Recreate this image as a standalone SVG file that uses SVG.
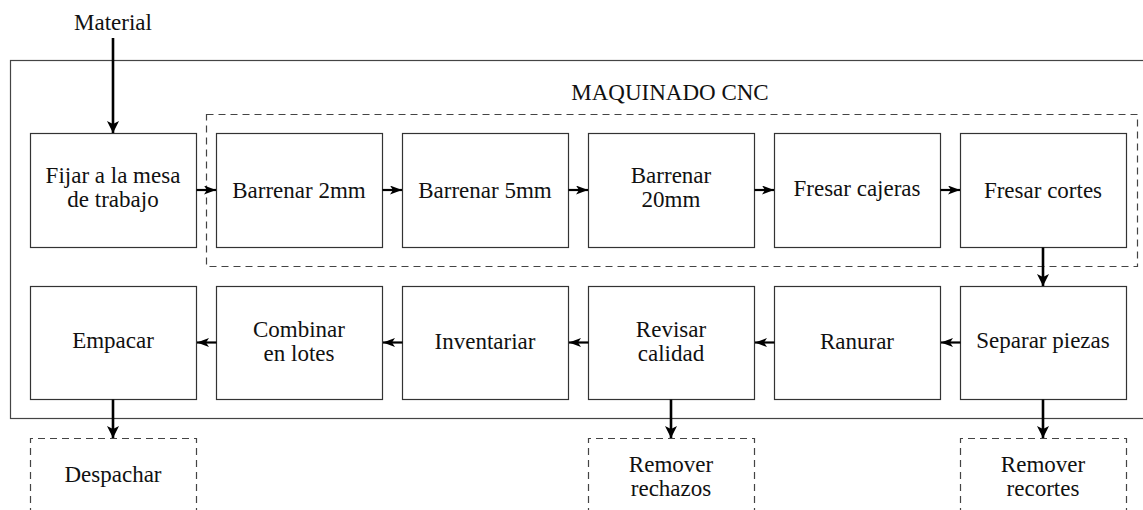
<svg xmlns="http://www.w3.org/2000/svg" width="1143" height="510" viewBox="0 0 1143 510">
<style>
.box{fill:#fff;stroke:#333;stroke-width:1.2}
.dbox{fill:none;stroke:#444;stroke-width:1.2;stroke-dasharray:7 5}
.h{stroke:#000;stroke-width:2.2;fill:none}
.v{stroke:#000;stroke-width:2.6;fill:none}
</style>
<defs>
<marker id="ah" viewBox="0 0 12 9" refX="12" refY="4.5" markerWidth="12" markerHeight="9" markerUnits="userSpaceOnUse" orient="auto">
<path d="M0,0 L12,4.5 L0,9 L3,4.5 Z" fill="#000"/>
</marker>
<marker id="ahv" viewBox="0 0 12 12" refX="12" refY="6" markerWidth="12" markerHeight="12" markerUnits="userSpaceOnUse" orient="auto">
<path d="M0,0 L12,6 L0,12 L3,6 Z" fill="#000"/>
</marker>
</defs>
<rect x="10.5" y="60.5" width="1150" height="358" fill="none" stroke="#444" stroke-width="1.2"/>
<g id="group-cnc">
<rect class="dbox" x="206.5" y="114.5" width="931" height="152"/>
<text x="670" y="100" font-family="Times New Roman" font-size="23" fill="#111" text-anchor="middle">MAQUINADO CNC</text>
</g>
<g id="material"><text x="113" y="30" font-family="Times New Roman" font-size="23" fill="#111" text-anchor="middle">Material</text></g>
<g id="fijar"><rect class="box" x="30.5" y="133.5" width="166" height="114"/><text x="113" y="183" font-family="Times New Roman" font-size="23" fill="#111" text-anchor="middle">Fijar a la mesa</text><text x="113" y="207" font-family="Times New Roman" font-size="23" fill="#111" text-anchor="middle">de trabajo</text></g>
<g id="b2"><rect class="box" x="216.5" y="133.5" width="166" height="114"/><text x="299" y="198" font-family="Times New Roman" font-size="23" fill="#111" text-anchor="middle">Barrenar 2mm</text></g>
<g id="b5"><rect class="box" x="402.5" y="133.5" width="166" height="114"/><text x="485" y="198" font-family="Times New Roman" font-size="23" fill="#111" text-anchor="middle">Barrenar 5mm</text></g>
<g id="b20"><rect class="box" x="588.5" y="133.5" width="166" height="114"/><text x="671" y="183" font-family="Times New Roman" font-size="23" fill="#111" text-anchor="middle">Barrenar</text><text x="671" y="207" font-family="Times New Roman" font-size="23" fill="#111" text-anchor="middle">20mm</text></g>
<g id="fcaj"><rect class="box" x="774.5" y="133.5" width="166" height="114"/><text x="857" y="196" font-family="Times New Roman" font-size="23" fill="#111" text-anchor="middle">Fresar cajeras</text></g>
<g id="fcor"><rect class="box" x="960.5" y="133.5" width="166" height="114"/><text x="1043" y="198" font-family="Times New Roman" font-size="23" fill="#111" text-anchor="middle">Fresar cortes</text></g>
<g id="emp"><rect class="box" x="30.5" y="286.5" width="166" height="113"/><text x="113" y="348" font-family="Times New Roman" font-size="23" fill="#111" text-anchor="middle">Empacar</text></g>
<g id="comb"><rect class="box" x="216.5" y="286.5" width="166" height="113"/><text x="299" y="337" font-family="Times New Roman" font-size="23" fill="#111" text-anchor="middle">Combinar</text><text x="299" y="361" font-family="Times New Roman" font-size="23" fill="#111" text-anchor="middle">en lotes</text></g>
<g id="inv"><rect class="box" x="402.5" y="286.5" width="166" height="113"/><text x="485" y="349" font-family="Times New Roman" font-size="23" fill="#111" text-anchor="middle">Inventariar</text></g>
<g id="rev"><rect class="box" x="588.5" y="286.5" width="166" height="113"/><text x="671" y="337" font-family="Times New Roman" font-size="23" fill="#111" text-anchor="middle">Revisar</text><text x="671" y="361" font-family="Times New Roman" font-size="23" fill="#111" text-anchor="middle">calidad</text></g>
<g id="ran"><rect class="box" x="774.5" y="286.5" width="166" height="113"/><text x="857" y="349" font-family="Times New Roman" font-size="23" fill="#111" text-anchor="middle">Ranurar</text></g>
<g id="sep"><rect class="box" x="960.5" y="286.5" width="166" height="113"/><text x="1043" y="348" font-family="Times New Roman" font-size="23" fill="#111" text-anchor="middle">Separar piezas</text></g>
<g id="desp"><path class="dbox" d="M30.5,515 V438.5 H196.5 V515"/><text x="113" y="482" font-family="Times New Roman" font-size="23" fill="#111" text-anchor="middle">Despachar</text></g>
<g id="rrech"><path class="dbox" d="M588.5,515 V438.5 H754.5 V515"/><text x="671" y="472" font-family="Times New Roman" font-size="23" fill="#111" text-anchor="middle">Remover</text><text x="671" y="496" font-family="Times New Roman" font-size="23" fill="#111" text-anchor="middle">rechazos</text></g>
<g id="rrec"><path class="dbox" d="M960.5,515 V438.5 H1126.5 V515"/><text x="1043" y="472" font-family="Times New Roman" font-size="23" fill="#111" text-anchor="middle">Remover</text><text x="1043" y="496" font-family="Times New Roman" font-size="23" fill="#111" text-anchor="middle">recortes</text></g>
<g id="connectors">
<path class="v" marker-end="url(#ahv)" d="M113,38 V133"/>
<path class="h" marker-end="url(#ah)" d="M196.5,190 H216"/>
<path class="h" marker-end="url(#ah)" d="M382.5,190 H402"/>
<path class="h" marker-end="url(#ah)" d="M568.5,190 H588"/>
<path class="h" marker-end="url(#ah)" d="M754.5,190 H774"/>
<path class="h" marker-end="url(#ah)" d="M940.5,190 H960"/>
<path class="v" marker-end="url(#ahv)" d="M1043,247.5 V286"/>
<path class="h" marker-end="url(#ah)" d="M960.5,342.5 H941"/>
<path class="h" marker-end="url(#ah)" d="M774.5,342.5 H755"/>
<path class="h" marker-end="url(#ah)" d="M588.5,342.5 H569"/>
<path class="h" marker-end="url(#ah)" d="M402.5,342.5 H383"/>
<path class="h" marker-end="url(#ah)" d="M216.5,342.5 H197"/>
<path class="v" marker-end="url(#ahv)" d="M113,399.5 V438"/>
<path class="v" marker-end="url(#ahv)" d="M671,399.5 V438"/>
<path class="v" marker-end="url(#ahv)" d="M1043,399.5 V438"/>
</g>
</svg>
